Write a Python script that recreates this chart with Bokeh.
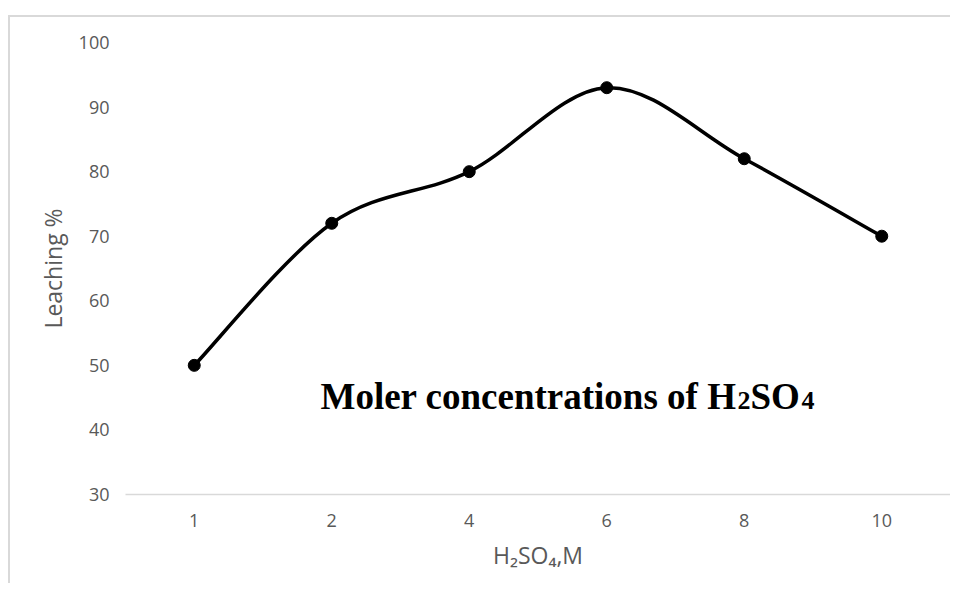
from bokeh.plotting import figure
from bokeh.models import Range1d, FixedTicker, Label
from bokeh.embed import file_html
from bokeh.resources import INLINE

# ---- data ----
concentrations = ["1", "2", "4", "6", "8", "10"]
leaching = [50, 72, 80, 93, 82, 70]
y_ticks = [30, 40, 50, 60, 70, 80, 90, 100]
y_title = "Leaching %"
x_title = "H\u2082SO\u2084,M"
note_parts = ["Moler concentrations of H", "2", "SO", "4"]

p = figure(
    x_range=concentrations,
    y_range=Range1d(30, 100),
    width=942, height=568,
    output_backend="svg", toolbar_location=None,
    min_border_left=115, min_border_right=2,
    min_border_top=25, min_border_bottom=91,
)
p.margin = (15, 0, 0, 8)
p.styles = {"border-top": "2px solid #d9d9d9",
            "border-left": "2px solid #d9d9d9"}
p.outline_line_color = None
p.background_fill_color = "white"
p.border_fill_color = "white"
p.x_range.range_padding = 0

# grid
p.xgrid.grid_line_color = None
p.ygrid.grid_line_color = None

# axes
tick_font = "Open Sans"
p.yaxis.ticker = FixedTicker(ticks=y_ticks)
p.yaxis.axis_line_color = None
p.yaxis.major_tick_line_color = None
p.yaxis.minor_tick_line_color = None
p.yaxis.major_label_text_font = tick_font
p.yaxis.major_label_text_font_size = "18px"
p.yaxis.major_label_text_color = "#595959"
p.yaxis.major_label_standoff = 10
p.yaxis.axis_label = y_title
p.yaxis.axis_label_text_font = tick_font
p.yaxis.axis_label_text_font_style = "normal"
p.yaxis.axis_label_text_font_size = "23px"
p.yaxis.axis_label_text_color = "#595959"
p.yaxis.axis_label_standoff = 7

p.xaxis.axis_line_color = "#d9d9d9"
p.xaxis.axis_line_width = 1.5
p.xaxis.major_tick_line_color = None
p.xaxis.minor_tick_line_color = None
p.xaxis.major_label_text_font = tick_font
p.xaxis.major_label_text_font_size = "18px"
p.xaxis.major_label_text_color = "#595959"
p.xaxis.major_label_standoff = 13
p.xaxis.axis_label = x_title
p.xaxis.axis_label_text_font = tick_font
p.xaxis.axis_label_text_font_style = "normal"
p.xaxis.axis_label_text_font_size = "23px"
p.xaxis.axis_label_text_color = "#595959"
p.xaxis.axis_label_standoff = 9

# smoothed line (Catmull-Rom style Bezier through the points)
xs = [i + 0.5 for i in range(len(concentrations))]
ys = leaching
n = len(xs)
x0, y0, x1, y1, cx0, cy0, cx1, cy1 = [], [], [], [], [], [], [], []
for i in range(n - 1):
    pxm, pym = (xs[i - 1], ys[i - 1]) if i > 0 else (xs[i], ys[i])
    pxp, pyp = (xs[i + 2], ys[i + 2]) if i + 2 < n else (xs[i + 1], ys[i + 1])
    x0.append(xs[i]); y0.append(ys[i])
    x1.append(xs[i + 1]); y1.append(ys[i + 1])
    cx0.append(xs[i] + (xs[i + 1] - pxm) / 6.0)
    cy0.append(ys[i] + (ys[i + 1] - pym) / 6.0)
    cx1.append(xs[i + 1] - (pxp - xs[i]) / 6.0)
    cy1.append(ys[i + 1] - (pyp - ys[i]) / 6.0)
p.bezier(x0=x0, y0=y0, x1=x1, y1=y1, cx0=cx0, cy0=cy0, cx1=cx1, cy1=cy1,
         line_color="black", line_width=3.5)
p.scatter(x=concentrations, y=leaching, size=12, marker="circle",
          fill_color="black", line_color="black")

# annotation text
ax, ay = 1.418, 45.2
offsets = [0, 417, 430, 481]
sizes = ["37px", "26px", "37px", "26px"]
yoffs = [0, -4, 0, -4]
for part, off, sz, yo in zip(note_parts, offsets, sizes, yoffs):
    p.add_layout(Label(x=ax, y=ay, x_offset=off, y_offset=yo, text=part,
                       text_font="Liberation Serif", text_font_style="bold",
                       text_font_size=sz, text_color="black",
                       text_baseline="alphabetic", text_align="left"))

open("out.html", "w").write(file_html(p, INLINE))
